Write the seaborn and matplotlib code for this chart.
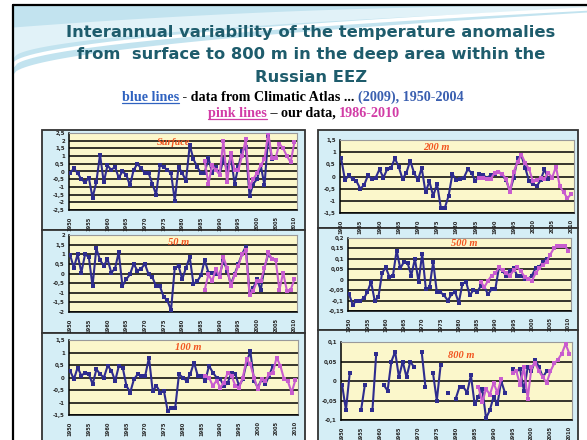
import numpy as np
import pandas as pd
import seaborn as sns
import matplotlib.pyplot as plt
from matplotlib.patches import Rectangle

# ---------------- data ----------------
years_atlas = list(range(1950, 2005))
years_ours = list(range(1986, 2011))

surface_atlas = [-0.1, 0.2, -0.1, -0.5, -0.7, -0.4, -1.7, -0.7, 1.1, -0.7,
                 0.4, 0.1, 0.3, -0.4, 0.0, -0.2, -0.9, 0.1, 0.5, 0.2,
                 -0.1, -0.1, -0.8, -1.5, 0.4, 0.3, 0.1, -0.1, -1.9, 0.3,
                 -0.1, -0.6, 1.7, 0.8, 0.3, -0.1, -0.1, 0.9, -0.1, 0.3,
                 -0.2, 0.8, 0.1, 1.0, -0.8, 0.3, 1.3, 1.6, -1.6, -0.8,
                 -0.5, 0.4, -0.9, 2.3, 0.8]
surface_ours = [0.7, -0.8, 0.4, 0.1, -0.2, 2.0, -0.7, 1.2, 0.1, 0.1,
                1.0, 2.1, -1.0, -0.5, -0.1, 0.4, 0.8, 2.5, 0.9, 0.9,
                1.8, 1.5, 1.0, 0.6, 1.9]

m200_atlas = [0.75, -0.15, 0.05, -0.1, -0.2, -0.5, -0.35, 0.05, -0.1, -0.05,
              0.3, -0.05, 0.3, 0.35, 0.75, 0.4, -0.1, 0.15, 0.65, 0.15,
              -0.15, 0.35, -0.65, -0.2, -0.8, -0.3, -1.3, -1.3, -0.8, 0.1,
              -0.15, -0.1, -0.05, 0.3, 0.15, -0.2, 0.1, 0.05, -0.05, 0.05,
              0.1, 0.2, 0.05, -0.15, -0.6, -0.05, 0.75, 0.85, 0.35, -0.2,
              -0.3, -0.4, -0.15, 0.3, -0.1]
m200_ours = [-0.05, -0.05, -0.1, -0.1, 0.15, 0.2, 0.1, -0.1, -0.65, 0.2,
             0.6, 0.9, 0.55, 0.3, -0.2, -0.15, -0.05, -0.1, 0.15, -0.05,
             0.4, -0.4, -0.65, -0.9, -0.7]

m50_atlas = [0.95, 0.3, 1.0, 0.05, 1.0, 0.85, -0.65, 1.3, 0.7, 0.4,
             0.75, 0.05, 0.25, 1.1, -0.65, -0.3, -0.05, 0.5, 0.15, 0.25,
             0.5, -0.05, -0.2, -0.65, -0.65, -1.2, -1.4, -1.9, 0.3, 0.4,
             -0.3, 0.3, 0.85, -0.55, -0.4, -0.1, 0.7, 0.05, 0.05, -0.05,
             -0.1, 0.7, 0.15, -0.55, -0.05, 0.5, 1.0, 1.4, -1.0, -0.75,
             -0.3, -0.85, 0.3, 1.0, 0.75]
m50_ours = [-0.85, -0.05, -0.4, 0.25, -0.2, 0.85, 0.3, -0.65, -0.1, 0.4,
            1.0, 1.2, -1.1, -0.9, -0.4, -0.4, 0.3, 1.1, 0.75, 0.7,
            -0.85, 0.05, -0.9, -0.85, -0.3]

m500_atlas = [-0.07, -0.12, -0.1, -0.1, -0.09, -0.06, -0.01, -0.1, -0.085, 0.03,
              0.06, 0.015, 0.02, 0.14, 0.055, 0.085, 0.08, 0.02, 0.1, -0.01,
              0.125, -0.045, -0.035, 0.085, -0.06, -0.06, -0.075, -0.1, -0.07, -0.06,
              -0.11, -0.02, -0.01, -0.075, -0.05, -0.06, -0.03, -0.035, -0.07, -0.045,
              -0.045, 0.06, 0.04, 0.02, 0.04, 0.055, 0.02, 0.02, 0.005, 0.005,
              0.02, 0.055, 0.06, 0.085, 0.1]
m500_ours = [-0.01, -0.035, -0.005, 0.02, 0.03, 0.06, 0.045, 0.03, 0.02, 0.045,
             0.06, 0.04, 0.015, 0.005, -0.005, 0.03, 0.055, 0.07, 0.085, 0.12,
             0.15, 0.16, 0.16, 0.16, 0.14]

m100_atlas = [0.27, -0.07, 0.4, 0.07, 0.2, 0.13, -0.27, 0.33, 0.13, 0.0,
              0.47, 0.27, -0.13, 0.47, 0.4, -0.33, -0.6, -0.07, 0.13, 0.07,
              0.07, 0.8, -0.55, -0.33, -0.6, -0.55, -1.35, -1.2, -1.2, 0.13,
              0.0, -0.13, 0.13, 0.6, 0.07, 0.07, -0.13, 0.47, 0.2, 0.0,
              -0.07, -0.33, -0.2, 0.2, 0.13, -0.33, -0.07, 0.6, 1.05, -0.13,
              -0.4, -0.07, -0.27, 0.07, 0.47]
m100_ours = [0.07, 0.0, -0.33, -0.13, -0.4, -0.2, 0.2, 0.07, -0.33, -0.4,
             0.0, 0.73, 0.53, 0.0, -0.47, -0.07, -0.13, 0.13, 0.2, 0.8,
             0.47, -0.07, -0.15, -0.6, -0.1]

m800_atlas = [-0.01, -0.075, 0.02, None, None, -0.075, -0.01, None, -0.075, 0.07,
              None, -0.01, -0.025, 0.05, 0.075, 0.01, 0.05, 0.01, 0.05, 0.035,
              None, 0.075, -0.015, None, 0.02, -0.05, 0.04, None, -0.03, None,
              -0.045, -0.015, -0.015, -0.03, 0.015, -0.06, -0.04, -0.02, -0.095, -0.075,
              -0.04, -0.06, 0.0, -0.03, None, 0.03, 0.025, 0.03, -0.025, 0.035,
              0.025, 0.055, 0.035, 0.01, 0.025]
m800_ours = [-0.015, -0.055, -0.02, -0.035, -0.005, -0.03, 0.005, None, None, 0.02,
             0.025, -0.01, 0.035, -0.045, 0.035, 0.045, 0.025, 0.01, -0.005, 0.025,
             0.045, 0.055, 0.07, 0.095, 0.07]

panel_names = ["Surface", "200 m", "50 m", "500 m", "100 m", "800 m"]
yticks_surface = [-2.5, -2, -1.5, -1, -0.5, 0, 0.5, 1, 1.5, 2, 2.5]
yticks_200 = [-1.5, -1, -0.5, 0, 0.5, 1, 1.5]
yticks_50 = [-2, -1.5, -1, -0.5, 0, 0.5, 1, 1.5, 2]
yticks_500 = [-0.15, -0.1, -0.05, 0, 0.05, 0.1, 0.15, 0.2]
yticks_100 = [-1.5, -1, -0.5, 0, 0.5, 1, 1.5]
yticks_800 = [-0.1, -0.05, 0, 0.05, 0.1]
year_ticks = list(range(1950, 2011, 5))

# ---------------- styling ----------------
W, H = 587, 440
BLUE = "#2e2c8e"
PINK = "#c85ccf"
YELLOW = "#fbf7cb"
CYAN = "#d5eef6"
TEAL = "#1e5c6c"

sns.set_style("white")
plt.rcParams["font.family"] = ["DejaVu Sans"]

fig = plt.figure(figsize=(W / 100, H / 100), dpi=100)
fig.patch.set_facecolor("white")

bg = fig.add_axes([0, 0, 1, 1], zorder=-5)
bg.set_xlim(0, W)
bg.set_ylim(H, 0)
bg.axis("off")

# slide decoration: blue swoosh at the top
xs = np.linspace(13, W, 200)
t = (xs - 13) / (W - 13)
bg.fill_between(xs, 5, 74 - 62 * t ** 0.55, color="#c2e3ef", lw=0)
bg.fill_between(xs, 5 + 22 * (1 - t) ** 2, 58 - 50 * t ** 0.5, color="#e1f2f8", lw=0)
bg.plot(xs, 66 - 57 * t ** 0.52, color="white", lw=2.5)
bg.plot([13, 13], [5, H], color="black", lw=1.6)
bg.plot([13, W], [5, 5], color="black", lw=1.6)

# titles
for txt, y in [("Interannual variability of the temperature anomalies", 33),
               ("from  surface to 800 m in the deep area within the", 55),
               ("Russian EEZ", 77)]:
    bg.text(311, y, txt, ha="center", va="center", fontsize=11.8,
            fontweight="bold", color=TEAL)

renderer = fig.canvas.get_renderer()


def rich_line(parts, xc, y, size):
    items = []
    x = 0
    for s, color, ul in parts:
        tt = bg.text(x, y, s, ha="left", va="baseline", fontsize=size,
                     fontweight="bold", color=color,
                     family=["Liberation Serif", "DejaVu Serif"])
        w = tt.get_window_extent(renderer).width
        items.append((tt, w, ul, color))
        x += w
    pos = xc - x / 2
    for tt, w, ul, color in items:
        tt.set_x(pos)
        if ul:
            bg.plot([pos, pos + w], [y + 1.8, y + 1.8], color=color, lw=0.9)
        pos += w


rich_line([("blue lines", "#2f62c0", True),
           (" - data from Climatic Atlas ... ", "black", False),
           ("(2009), 1950-2004", "#3a5fb0", False)], 293, 101, 10.2)
rich_line([("pink lines", "#d23ca6", True),
           (" \u2013 our data, ", "black", False),
           ("1986-2010", "#d23ca6", False)], 304, 117, 10.2)


def frame(years, vals):
    df = pd.DataFrame({"year": years, "anom": [np.nan if v is None else v for v in vals]})
    df["seg"] = df["anom"].isna().cumsum()
    return df.dropna()


def to_fig(x0, y0, x1, y1):
    return [x0 / W, 1 - y1 / H, (x1 - x0) / W, (y1 - y0) / H]


def fmt(v):
    return f"{v:g}".replace(".", ",")


panels = [
    # box, plot area, atlas, ours, ticks, label pos
    ((42, 130, 305, 230), (69, 133, 297, 210), surface_atlas, surface_ours, yticks_surface, (0.46, 0.88)),
    ((318, 130, 578, 228), (340, 140, 574, 213), m200_atlas, m200_ours, yticks_200, (0.41, 0.90)),
    ((42, 230, 305, 333), (69, 235, 297, 312), m50_atlas, m50_ours, yticks_50, (0.48, 0.90)),
    ((318, 228, 578, 330), (348, 238, 571, 311), m500_atlas, m500_ours, yticks_500, (0.52, 0.92)),
    ((42, 333, 305, 445), (69, 340, 298, 415), m100_atlas, m100_ours, yticks_100, (0.52, 0.90)),
    ((318, 330, 578, 445), (341, 342, 572, 420), m800_atlas, m800_ours, yticks_800, (0.52, 0.83)),
]

for name, (box, area, atlas, ours, ticks, lab) in zip(panel_names, panels):
    bg.add_patch(Rectangle((box[0], box[1]), box[2] - box[0], box[3] - box[1],
                           facecolor=CYAN, edgecolor="#333333", lw=1.3))
    ax = fig.add_axes(to_fig(*area))
    ax.set_facecolor(YELLOW)
    sns.lineplot(data=frame(years_atlas, atlas), x="year", y="anom", units="seg",
                 estimator=None, ax=ax, color=BLUE, lw=1.5, marker="s",
                 markersize=2.8, markeredgewidth=0, zorder=3)
    sns.lineplot(data=frame(years_ours, ours), x="year", y="anom", units="seg",
                 estimator=None, ax=ax, color=PINK, lw=1.5, marker="s",
                 markersize=2.8, markeredgewidth=0, zorder=4)
    ax.set_xlim(1949.7, 2010.7)
    ax.set_ylim(ticks[0], ticks[-1])
    ax.set_yticks(ticks)
    ax.set_yticklabels([fmt(v) for v in ticks], fontsize=3.9, fontweight="bold")
    ax.set_xticks(year_ticks)
    ax.set_xticklabels([str(y) for y in year_ticks], rotation=90, fontsize=3.7,
                       fontweight="bold")
    ax.set_xticks(range(1950, 2011), minor=True)
    ax.tick_params(axis="x", which="major", length=3, width=0.9, pad=1.5, direction="out")
    ax.tick_params(axis="x", which="minor", length=2, width=0.7, direction="out")
    ax.tick_params(axis="y", length=2, width=0.9, pad=1, direction="out")
    ax.grid(axis="y", color="black", lw=1.1)
    ax.grid(axis="x", visible=False)
    ax.set_axisbelow(True)
    ax.set_xlabel("")
    ax.set_ylabel("")
    for side in ["left", "bottom"]:
        ax.spines[side].set_color("black")
        ax.spines[side].set_linewidth(1.1)
    for side in ["top", "right"]:
        ax.spines[side].set_color("#9a9a9a")
        ax.spines[side].set_linewidth(0.8)
    ax.text(lab[0], lab[1], name, transform=ax.transAxes, ha="center", va="center",
            fontsize=7.5, fontstyle="italic", fontweight="bold", color="#f2541f",
            family=["Liberation Serif", "DejaVu Serif"], zorder=5)

fig.savefig("out.png", dpi=100, facecolor="white")
